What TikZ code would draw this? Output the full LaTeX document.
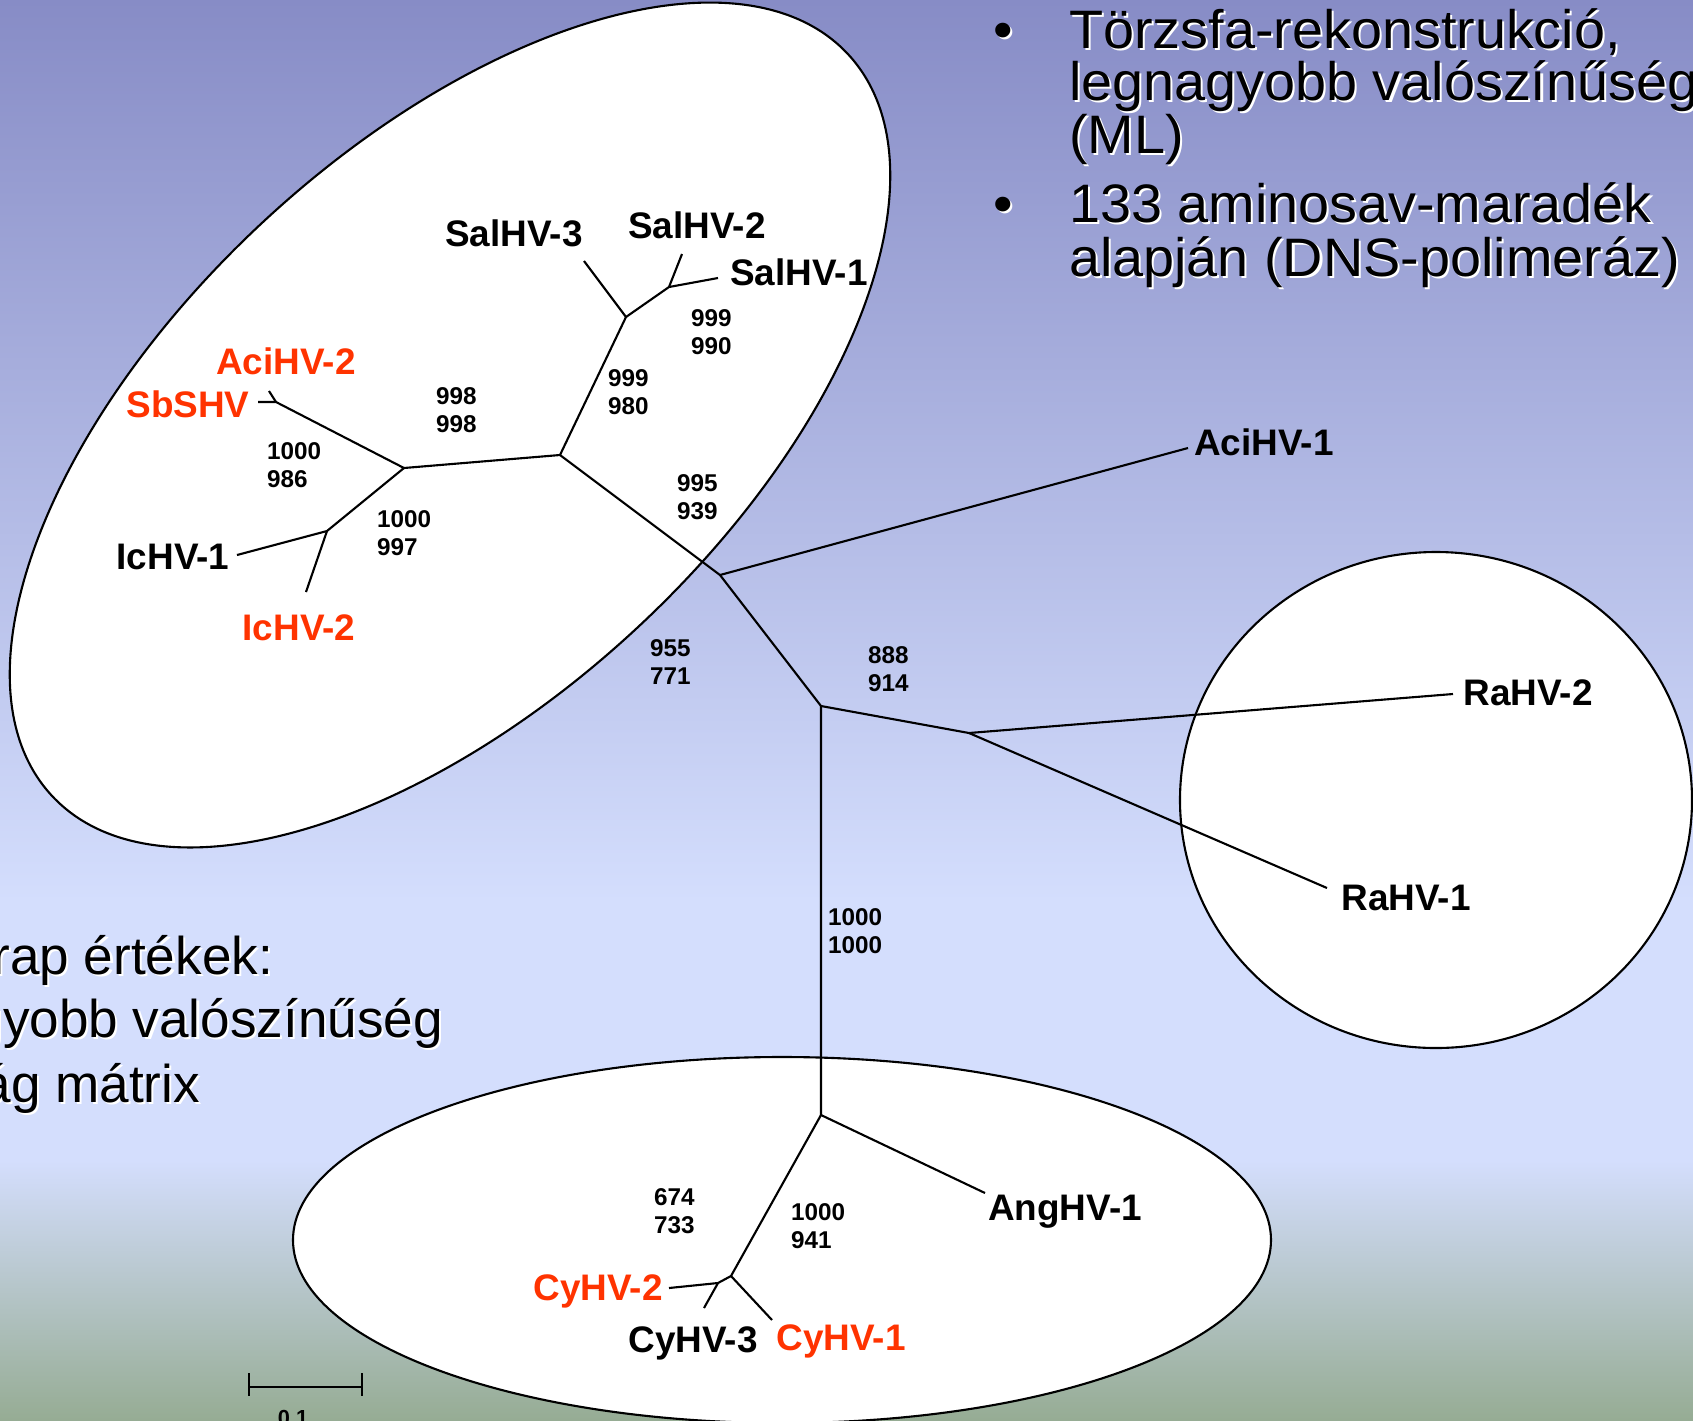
\documentclass[tikz,border=0pt]{standalone}
\usepackage{fontspec}
\setmainfont{Liberation Sans}
\newfontfamily\slidefamily[FakeStretch=1.03]{Liberation Sans}
\definecolor{bgtop}{RGB}{135,140,198}
\definecolor{bgmid}{RGB}{212,222,253}
\definecolor{bgbot}{RGB}{150,172,148}
\definecolor{virred}{RGB}{255,51,0}
\newcommand{\labfont}{\fontsize{10.5pt}{12pt}\selectfont\bfseries}
\newcommand{\bootfont}{\fontsize{6.9pt}{8pt}\selectfont\bfseries}
\newcommand{\slidefont}{\slidefamily\fontsize{15.4pt}{15pt}\selectfont}
\newcommand{\notefont}{\fontsize{15.1pt}{15pt}\selectfont}

\begin{document}
\begin{tikzpicture}[x=0.01cm,y=-0.01cm,line width=0.6pt,
    leaf/.style={font=\labfont,inner sep=0pt,anchor=base},
    redleaf/.style={leaf,text=virred},
    boot/.style={font=\bootfont,align=left,anchor=west,inner sep=0pt},
    slide/.style={font=\slidefont,inner sep=0pt},
    glow/.style={slide,text=white,xshift=0.6pt,yshift=-0.6pt},
    note/.style={font=\notefont,inner sep=0pt,anchor=base east},
    noteglow/.style={note,text=white,xshift=0.6pt,yshift=-0.6pt}]
    \useasboundingbox (0,0) rectangle (1693,1420);
    % background
    \shade[top color=bgtop,bottom color=bgmid] (0,0) rectangle (1693,902);
    \fill[bgmid] (0,900) rectangle (1693,1162);
    \shade[top color=bgmid,bottom color=bgbot] (0,1160) rectangle (1693,1420);
    % groups
    \draw[fill=white,rotate around={43:(450,425)}] (450,425) ellipse [x radius=544,y radius=276];
    \draw[fill=white] (1436,800) ellipse [x radius=256,y radius=248];
    \draw[fill=white] (782,1240) ellipse [x radius=489,y radius=183];
    % inner nodes
    \coordinate(c) at (720,575);
    \coordinate(r) at (560,455);
    \coordinate(ic) at (404,468);
    \coordinate(sb) at (276,402);
    \coordinate(icj) at (327,531);
    \coordinate(sal) at (626,317);
    \coordinate(salj) at (669,287);
    \coordinate(l) at (821,706);
    \coordinate(ra) at (969,733);
    \coordinate(ang) at (821,1115);
    \coordinate(cy) at (731,1276);
    \coordinate(cyj) at (718,1283);
    % tips
    \coordinate(tSbS) at (258,402);
    \coordinate(tAci2) at (269,391);
    \coordinate(tIc1) at (237,555);
    \coordinate(tIc2) at (306,592);
    \coordinate(tSal1) at (718,278);
    \coordinate(tSal2) at (682,254);
    \coordinate(tSal3) at (584,261);
    \coordinate(tAci1) at (1188,448);
    \coordinate(tRa1) at (1327,888);
    \coordinate(tRa2) at (1453,694);
    \coordinate(tAng) at (985,1193);
    \coordinate(tCy1) at (772,1320);
    \coordinate(tCy2) at (669,1288);
    \coordinate(tCy3) at (704,1308);
    % branches
    \draw (tSbS)--(sb)--(ic)--(icj)--(tIc1);
    \draw (tAci2)--(sb);
    \draw (icj)--(tIc2);
    \draw (ic)--(r)--(sal)--(salj)--(tSal1);
    \draw (tSal3)--(sal);
    \draw (salj)--(tSal2);
    \draw (r)--(c)--(tAci1);
    \draw (c)--(l)--(ra)--(tRa2);
    \draw (ra)--(tRa1);
    \draw (l)--(ang)--(tAng);
    \draw (ang)--(cy)--(cyj)--(tCy2);
    \draw (cyj)--(tCy3);
    \draw (cy)--(tCy1);
    % names
    \node[leaf] (sal3) at (514,246) {SalHV-3};
    \node[leaf] (sal2) at (697,238) {SalHV-2};
    \node[leaf] (sal1) at (799,285) {SalHV-1};
    \node[redleaf] (aci2) at (286,374) {AciHV-2};
    \node[redleaf] (sbs) at (188,417) {SbSHV};
    \node[leaf] (ic1) at (173,569) {IcHV-1};
    \node[redleaf] (ic2) at (299,640) {IcHV-2};
    \node[leaf] (aci1) at (1264,455) {AciHV-1};
    \node[leaf] (ra2) at (1528,705) {RaHV-2};
    \node[leaf] (ra1) at (1406,910) {RaHV-1};
    \node[leaf] (ang1) at (1065,1220) {AngHV-1};
    \node[redleaf] (cy2) at (598,1300) {CyHV-2};
    \node[leaf] (cy3) at (693,1352) {CyHV-3};
    \node[redleaf] (cy1) at (841,1350) {CyHV-1};
    % bootstrap values
    \node[boot] (bsal12) at (690,332) {999\\990};
    \node[boot] (bsal) at (607,392) {999\\980};
    \node[boot] (bic) at (435,410) {998\\998};
    \node[boot] (bsb) at (266,465) {1000\\986};
    \node[boot] (bicj) at (376,533) {1000\\997};
    \node[boot] (br) at (676,497) {995\\939};
    \node[boot] (bc) at (649,662) {955\\771};
    \node[boot] (bl) at (867,669) {888\\914};
    \node[boot] (bang) at (827,931) {1000\\1000};
    \node[boot] (bcyj) at (653,1211) {674\\733};
    \node[boot] (bcy) at (790,1226) {1000\\941};
    % scale bar
    \draw (249,1387)--(362,1387);
    \draw (249,1373)--(249,1396) (362,1373)--(362,1396);
    \node[font=\fontsize{6.2pt}{7pt}\selectfont\bfseries,inner sep=0pt,anchor=north] (scale) at (293,1409) {0.1};
    % slide text
    \node[glow,anchor=base] (dot1s) at (1003,48) {•};
    \node[slide,anchor=base] (dot1) at (1003,48) {•};
    \node[glow,anchor=base west] (top1s) at (1068,48) {Törzsfa-rekonstrukció,};
    \node[slide,anchor=base west] (top1) at (1068,48) {Törzsfa-rekonstrukció,};
    \node[glow,anchor=base west] (top2s) at (1068,100) {legnagyobb valószínűség};
    \node[slide,anchor=base west] (top2) at (1068,100) {legnagyobb valószínűség};
    \node[glow,anchor=base west] (top3s) at (1068,153) {(ML)};
    \node[slide,anchor=base west] (top3) at (1068,153) {(ML)};
    \node[glow,anchor=base] (dot2s) at (1003,222) {•};
    \node[slide,anchor=base] (dot2) at (1003,222) {•};
    \node[glow,anchor=base west] (top4s) at (1068,222) {133 aminosav-maradék};
    \node[slide,anchor=base west] (top4) at (1068,222) {133 aminosav-maradék};
    \node[glow,anchor=base west] (top5s) at (1068,276) {alapján (DNS-polimeráz)};
    \node[slide,anchor=base west] (top5) at (1068,276) {alapján (DNS-polimeráz)};
    \node[noteglow] (left1s) at (274,974) {rap értékek:};
    \node[note] (left1) at (274,974) {rap értékek:};
    \node[noteglow] (left2s) at (444,1037) {gyobb valószínűség};
    \node[note] (left2) at (444,1037) {gyobb valószínűség};
    \node[noteglow] (left3s) at (201,1102) {ág mátrix};
    \node[note] (left3) at (201,1102) {ág mátrix};
\end{tikzpicture}
\end{document}
